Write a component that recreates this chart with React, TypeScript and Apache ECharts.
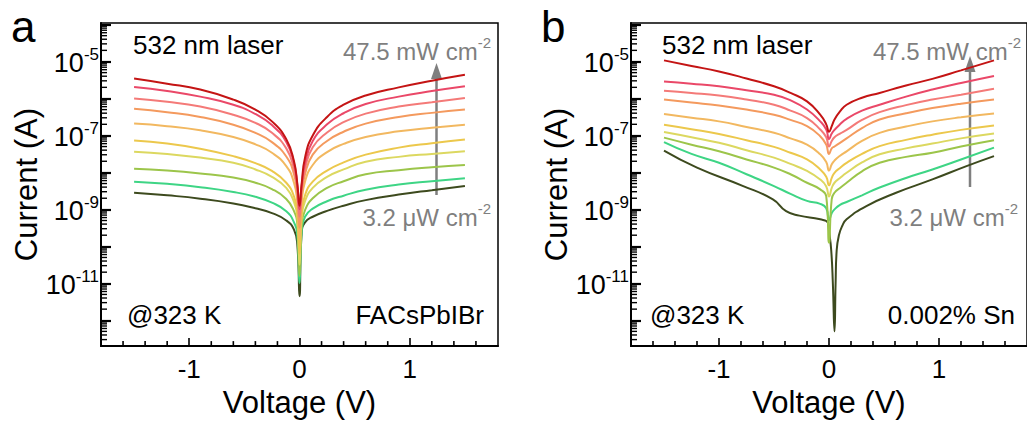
import { useEffect, useRef } from 'react';
import * as echarts from 'echarts';

const FONT = '"Liberation Sans", Arial, Helvetica, sans-serif';
const X_MIN = -1.8;
const X_MAX = 1.8;
const Y_MIN = 2e-13;
const Y_MAX = 1.1e-4;

// curve colours, highest illumination (47.5 mW cm-2) to lowest (3.2 uW cm-2)
const COLORS = ['#c41414', '#ea4868', '#f47a78', '#f49a5e', '#f2b860', '#ecc84c', '#dcd860', '#9cc54a', '#3ed585', '#3d4a1e'];

// ---------- panel a (FACsPbIBr): voltage grid (V) and log10 of current (A) ----------
const VA = [-1.5, -1.2, -0.9, -0.6, -0.4, -0.25, -0.12, -0.05, -0.02, 0, 0.02, 0.05, 0.12, 0.25, 0.4, 0.6, 0.9, 1.2, 1.5];
const A1 = [-5.46, -5.6, -5.76, -6.03, -6.3, -6.62, -7.1, -7.7, -8.3, -8.9, -8.3, -7.6, -7.0, -6.5, -6.17, -5.92, -5.7, -5.52, -5.36];
const A2 = [-5.69, -5.8, -5.95, -6.17, -6.42, -6.72, -7.18, -7.75, -8.35, -9.0, -8.35, -7.75, -7.15, -6.7, -6.4, -6.15, -5.95, -5.8, -5.67];
const A3 = [-6.0, -6.09, -6.22, -6.44, -6.66, -6.93, -7.35, -7.9, -8.45, -9.2, -8.45, -7.9, -7.32, -6.92, -6.64, -6.41, -6.22, -6.1, -5.99];
const A4 = [-6.28, -6.37, -6.5, -6.71, -6.93, -7.18, -7.57, -8.05, -8.6, -9.5, -8.6, -8.05, -7.52, -7.15, -6.9, -6.68, -6.5, -6.39, -6.3];
const A5 = [-6.68, -6.75, -6.86, -7.04, -7.24, -7.47, -7.83, -8.28, -8.8, -9.8, -8.8, -8.25, -7.8, -7.45, -7.23, -7.04, -6.89, -6.79, -6.71];
const A6 = [-7.14, -7.22, -7.36, -7.56, -7.75, -7.96, -8.28, -8.65, -9.1, -10.2, -9.1, -8.62, -8.25, -7.95, -7.73, -7.52, -7.33, -7.21, -7.11];
const A7 = [-7.44, -7.5, -7.6, -7.74, -7.92, -8.12, -8.42, -8.8, -9.2, -10.5, -9.2, -8.78, -8.42, -8.12, -7.92, -7.71, -7.58, -7.5, -7.43];
const A8 = [-7.9, -7.95, -8.03, -8.14, -8.28, -8.45, -8.72, -9.05, -9.4, -10.8, -9.4, -9.02, -8.7, -8.42, -8.24, -8.05, -7.94, -7.86, -7.8];
const A9 = [-8.25, -8.31, -8.4, -8.53, -8.66, -8.82, -9.05, -9.35, -9.7, -11.0, -9.6, -9.2, -8.98, -8.78, -8.63, -8.47, -8.33, -8.24, -8.16];
const A10 = [-8.55, -8.62, -8.71, -8.84, -8.97, -9.1, -9.3, -9.55, -9.95, -11.35, -9.62, -9.35, -9.2, -9.04, -8.9, -8.75, -8.6, -8.48, -8.37];

// ---------- panel b (0.002% Sn): voltage grid (V) and log10 of current (A) ----------
const VB = [-1.5, -1.25, -1, -0.75, -0.5, -0.35, -0.2, -0.08, -0.025, 0, 0.025, 0.05, 0.1, 0.16, 0.3, 0.46, 0.7, 0.94, 1.2, 1.5];
const B1 = [-4.97, -5.12, -5.27, -5.46, -5.67, -5.85, -6.08, -6.44, -6.7, -6.9, -6.75, -6.57, -6.35, -6.17, -5.98, -5.85, -5.65, -5.47, -5.24, -4.97];
const B2 = [-5.54, -5.6, -5.67, -5.78, -5.9, -6.05, -6.3, -6.62, -6.84, -7.1, -6.95, -6.85, -6.7, -6.55, -6.33, -6.17, -5.95, -5.76, -5.58, -5.39];
const B3 = [-5.79, -5.85, -5.92, -6.03, -6.17, -6.33, -6.53, -6.84, -7.05, -7.3, -7.15, -7.05, -6.95, -6.85, -6.58, -6.37, -6.18, -6.03, -5.9, -5.74];
const B4 = [-6.03, -6.11, -6.19, -6.3, -6.44, -6.58, -6.75, -7.02, -7.25, -7.5, -7.35, -7.3, -7.2, -7.08, -6.8, -6.57, -6.4, -6.26, -6.14, -6.03];
const B5 = [-6.42, -6.52, -6.62, -6.77, -6.93, -7.08, -7.25, -7.51, -7.72, -7.95, -7.78, -7.68, -7.55, -7.43, -7.15, -6.93, -6.76, -6.62, -6.51, -6.41];
const B6 = [-6.71, -6.83, -6.96, -7.13, -7.31, -7.47, -7.65, -7.92, -8.12, -8.35, -8.15, -8.01, -7.88, -7.74, -7.5, -7.29, -7.12, -6.98, -6.85, -6.73];
const B7 = [-6.91, -7.05, -7.2, -7.4, -7.6, -7.77, -7.96, -8.19, -8.38, -8.65, -8.42, -8.28, -8.15, -8.01, -7.73, -7.51, -7.35, -7.22, -7.08, -6.95];
const B8 = [-7.06, -7.25, -7.43, -7.65, -7.87, -8.05, -8.28, -8.46, -8.65, -9.9, -8.72, -8.55, -8.42, -8.28, -7.97, -7.74, -7.58, -7.47, -7.3, -7.13];
const B9 = [-7.18, -7.5, -7.74, -8.05, -8.37, -8.58, -8.77, -8.85, -8.97, -9.3, -9.1, -9.0, -8.88, -8.8, -8.62, -8.41, -8.15, -7.92, -7.65, -7.33];
const VB10 = [-1.5, -1.2, -0.78, -0.51, -0.39, -0.27, -0.08, -0.01, 0, 0.02, 0.035, 0.05, 0.06, 0.07, 0.09, 0.12, 0.16, 0.34, 0.61, 0.94, 1.25, 1.5];
const B10 = [-7.41, -7.87, -8.37, -8.73, -9.05, -9.17, -9.27, -9.36, -9.58, -10.1, -11.0, -12.3, -11.0, -10.1, -9.7, -9.45, -9.27, -8.91, -8.55, -8.19, -7.83, -7.56];

const X_TICKS_MINOR = [-1.6, -1.4, -1.2, -0.8, -0.6, -0.4, -0.2, 0.2, 0.4, 0.6, 0.8, 1.2, 1.4, 1.6];
// logarithmic minor ticks on the current axis (mantissa x decade)
const Y_MINOR_MANTISSA = [2, 3, 4, 5, 6, 7, 8, 9];
const Y_MINOR_DECADES = [1e-13, 1e-12, 1e-11, 1e-10, 1e-9, 1e-8, 1e-7, 1e-6, 1e-5];

const PANEL_A = [
  [VA, A1], [VA, A2], [VA, A3], [VA, A4], [VA, A5],
  [VA, A6], [VA, A7], [VA, A8], [VA, A9], [VA, A10],
];
const PANEL_B = [
  [VB, B1], [VB, B2], [VB, B3], [VB, B4], [VB, B5],
  [VB, B6], [VB, B7], [VB, B8], [VB, B9], [VB10, B10],
];

function toPairs(v: number[], lg: number[]) {
  return v.map((x, i) => [x, Math.pow(10, lg[i])]);
}

function yMinorValues() {
  const d: number[] = [];
  Y_MINOR_DECADES.forEach((dec) => {
    Y_MINOR_MANTISSA.forEach((m) => {
      const v = m * dec;
      if (v >= Y_MIN * 0.999 && v <= Y_MAX) d.push(v);
    });
  });
  return d;
}

const supRich = (size: number, sup: number, color: string) => ({
  m: { fontSize: size, fontFamily: FONT, fill: color, color, lineHeight: size + 4, verticalAlign: 'bottom' },
  s: { fontSize: sup, fontFamily: FONT, fill: color, color, lineHeight: sup, verticalAlign: 'top' },
});

const GRAY = '#7f7f7f';
const txt = (x: number, y: number, text: string, size: number, align = 'left', color = '#000') => ({
  type: 'text', x, y, silent: true,
  style: { text, fontSize: size, fontFamily: FONT, fill: color, align, verticalAlign: 'top' },
});
const supTxt = (x: number, y: number, main: string, sup: string) => ({
  type: 'text', x, y, silent: true,
  style: { text: `{m|${main}}{s|${sup}}`, align: 'right', verticalAlign: 'top', rich: supRich(24, 15, GRAY) },
});
const arrow = (x: number, yBottom: number, yTip: number) => [
  { type: 'line', silent: true, shape: { x1: x, y1: yBottom, x2: x, y2: yTip + 14 }, style: { stroke: GRAY, lineWidth: 2.5 } },
  { type: 'polygon', silent: true, shape: { points: [[x - 5.5, yTip + 16], [x + 5.5, yTip + 16], [x, yTip]] }, style: { fill: GRAY } },
];

function baseGraphic(): any[] {
  return [
    txt(11, 4, 'a', 44),
    txt(133, 32, '532 nm laser', 26),
    supTxt(491, 35, '47.5 mW cm', '-2'),
    supTxt(491, 201, '3.2 \u03bcW cm', '-2'),
    ...arrow(436.5, 195, 63),
    txt(127, 302, '@323 K', 26),
    txt(484, 302, 'FACsPbIBr', 26, 'right'),

    txt(541, 4, 'b', 44),
    txt(662, 32, '532 nm laser', 26),
    supTxt(1021, 35, '47.5 mW cm', '-2'),
    supTxt(1018, 201, '3.2 \u03bcW cm', '-2'),
    ...arrow(970, 187, 56),
    txt(650, 302, '@323 K', 26),
    txt(1015, 302, '0.002% Sn', 26, 'right'),
  ];
}

function buildOption() {
  const grids = [
    { left: 101, top: 23, width: 397, height: 325 },
    { left: 631, top: 23, width: 396, height: 325 },
  ];
  const xAxis: any[] = [];
  const yAxis: any[] = [];
  const series: any[] = [];
  [PANEL_A, PANEL_B].forEach((panel, gi) => {
    xAxis.push({
      type: 'value', gridIndex: gi, min: X_MIN, max: X_MAX, splitNumber: 4,
      axisLine: { onZero: false, lineStyle: { color: '#000', width: 2 } },
      axisTick: { inside: true, length: 8, lineStyle: { color: '#000', width: 1.6 } },
      axisLabel: {
        color: '#000', fontSize: 26, fontFamily: FONT, margin: 10,
        showMinLabel: false, showMaxLabel: false,
        formatter: (v: number) => (Math.abs(v - Math.round(v)) < 1e-9 ? String(Math.round(v)) : ''),
      },
      splitLine: { show: false },
      name: 'Voltage (V)', nameLocation: 'middle', nameGap: 34,
      nameTextStyle: { color: '#000', fontSize: 31, fontFamily: FONT },
    });
    yAxis.push({
      type: 'log', logBase: 10, gridIndex: gi, min: Y_MIN, max: Y_MAX,
      axisLine: { onZero: false, lineStyle: { color: '#000', width: 2 } },
      axisTick: { inside: true, length: 10, lineStyle: { color: '#000', width: 2.2 } },
      axisLabel: {
        margin: 2, showMinLabel: false, showMaxLabel: false,
        formatter: (v: number) => {
          const l = Math.log10(v);
          const e = Math.round(l);
          if (Math.abs(l - e) > 1e-6 || Math.abs(e) % 2 === 0) return '';
          return `{m|10}{s|${e}}`;
        },
        rich: supRich(27, 17, '#000'),
      },
      splitLine: { show: false },
      minorTick: { show: false },
      name: 'Current (A)', nameLocation: 'middle', nameGap: 54, nameRotate: 90,
      nameTextStyle: { color: '#000', fontSize: 31, fontFamily: FONT },
    });
    // draw lowest illumination first so the highest sits on top
    for (let k = panel.length - 1; k >= 0; k--) {
      const [v, lg] = panel[k];
      series.push({
        type: 'line', xAxisIndex: gi, yAxisIndex: gi,
        data: toPairs(v as number[], lg as number[]),
        showSymbol: false, symbol: 'none', smooth: 0.5,
        lineStyle: { color: COLORS[k], width: 2 }, itemStyle: { color: COLORS[k] },
        silent: true, z: 3,
      });
    }
    // minor ticks on the voltage axis every 0.2 V
    series.push({
      type: 'scatter', xAxisIndex: gi, yAxisIndex: gi, silent: true, clip: false, z: 5,
      data: X_TICKS_MINOR.map((x) => [x, Y_MIN]),
      symbol: 'rect', symbolSize: [1.6, 5], symbolOffset: [0, -2.5],
      itemStyle: { color: '#000', opacity: 1 },
    });
  });

  return {
    animation: false,
    backgroundColor: '#fff',
    grid: grids.map((g) => ({ ...g, show: true, borderColor: '#000', borderWidth: 1.5, backgroundColor: 'transparent', containLabel: false })),
    xAxis, yAxis, series, graphic: baseGraphic(),
  };
}

export default function App() {
  const ref = useRef<HTMLDivElement>(null);
  useEffect(() => {
    document.body.style.margin = '0';
    const chart = echarts.init(ref.current!, undefined, { renderer: 'svg' });
    chart.setOption(buildOption() as any);
    // logarithmic 2..9 minor ticks on the current axes, positioned through the axis scale
    const ticks: any[] = [];
    [0, 1].forEach((gi) => {
      yMinorValues().forEach((v) => {
        const p = chart.convertToPixel({ xAxisIndex: gi, yAxisIndex: gi } as any, [X_MIN, v]) as number[];
        if (p && isFinite(p[0]) && isFinite(p[1])) {
          ticks.push({
            type: 'line', silent: true, z: 10,
            shape: { x1: p[0], y1: p[1], x2: p[0] + 6, y2: p[1] },
            style: { stroke: '#000', lineWidth: 1.4 },
          });
        }
      });
    });
    chart.setOption({ graphic: [...baseGraphic(), ...ticks] } as any);
    return () => chart.dispose();
  }, []);
  return <div ref={ref} style={{ width: 1027, height: 423 }} />;
}
